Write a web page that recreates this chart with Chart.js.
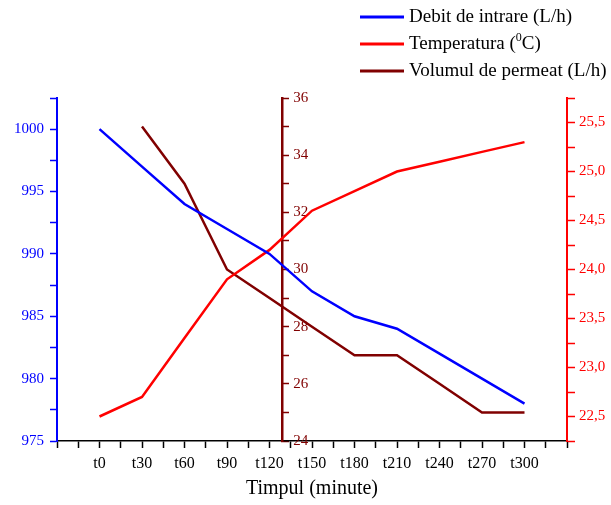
<!DOCTYPE html>
<html>
<head>
<meta charset="utf-8">
<script src="https://cdn.jsdelivr.net/npm/chart.js@4.4.1/dist/chart.umd.min.js"></script>
<style>
  html, body { margin: 0; padding: 0; background: #fff; }
  #wrap { position: relative; width: 611px; height: 505px; }
</style>
</head>
<body>
<div id="wrap"><canvas id="chart"></canvas></div>
<script>
// time axis (minutes) and its labels
var minutes = [0, 30, 60, 90, 120, 150, 180, 210, 240, 270, 300];
var timeLabels = ['t0', 't30', 't60', 't90', 't120', 't150', 't180', 't210', 't240', 't270', 't300'];

// series
var debitIntrare = [1000, 997, 994, 992, 990, 987, 985, 984, 982, 980, 978];
var temperatura = [22.5, 22.7, 23.3, 23.9, 24.2, 24.6, 24.8, 25.0, 25.1, 25.2, 25.3];
var volumPermeat = [null, 35, 33, 30, 29, 28, 27, 27, 26, 25, 25];

var seriesNames = ['Debit de intrare (L/h)', 'Temperatura (\u2070C)', 'Volumul de permeat (L/h)'];

// the permeate axis crosses the time axis here (minutes)
var permAxisAt = 129;

var serif = '"Liberation Serif", "Times New Roman", serif';

function points(values) {
	var out = [];
	for ( var i = 0; i < minutes.length; i++ ) {
		if ( values[i] !== null ) {
			out.push( { x: minutes[i], y: values[i] } );
		}
	}
	return out;
}

// legend drawn as stacked rows above the plot, like the original
var legendRows = {
	id: 'legendRows',
	afterDraw: function ( chart ) {
		var ctx = chart.ctx;
		ctx.save();
		ctx.textBaseline = 'middle';
		chart.data.datasets.forEach( function ( ds, i ) {
			var y = 17 + i * 27;
			ctx.strokeStyle = ds.borderColor;
			ctx.lineWidth = 3;
			ctx.beginPath();
			ctx.moveTo( 360, y );
			ctx.lineTo( 404, y );
			ctx.stroke();
			ctx.fillStyle = '#000';
			// superscript "0" drawn small and raised
			var parts = ds.label.split( '\u2070' );
			var x = 409;
			parts.forEach( function ( p, k ) {
				if ( k > 0 ) {
					ctx.font = '12px ' + serif;
					ctx.fillText( '0', x, y - 6 );
					x += ctx.measureText( '0' ).width;
				}
				ctx.font = '19px ' + serif;
				ctx.fillText( p, x, y );
				x += ctx.measureText( p ).width;
			} );
		} );
		ctx.restore();
	}
};

// put the middle axis labels on the right side of its line
var permLabelsRight = {
	id: 'permLabelsRight',
	beforeDraw: function ( chart ) {
		var s = chart.scales.yPerm;
		var px = chart.scales.x.getPixelForValue( permAxisAt );
		s.getLabelItems( chart.chartArea ).forEach( function ( it ) {
			it.options.textAlign = 'left';
			it.options.translation[0] = px + 11;
		} );
	}
};

var ctx = document.getElementById( 'chart' ).getContext( '2d' );
var myChart = new Chart( ctx, {
	type   : 'line',
	data   : {
		datasets: [
			{
				label      : seriesNames[0],
				data       : points( debitIntrare ),
				yAxisID    : 'yDebit',
				borderColor: '#0000FF',
				borderWidth: 2.5,
				pointRadius: 0,
				tension    : 0
			},
			{
				label      : seriesNames[1],
				data       : points( temperatura ),
				yAxisID    : 'yTemp',
				borderColor: '#FF0000',
				borderWidth: 2.5,
				pointRadius: 0,
				tension    : 0
			},
			{
				label      : seriesNames[2],
				data       : points( volumPermeat ),
				yAxisID    : 'yPerm',
				borderColor: '#800000',
				borderWidth: 2.5,
				pointRadius: 0,
				tension    : 0
			}
		]
	},
	options: {
		responsive         : true,
		maintainAspectRatio: false,
		animation          : false,
		layout             : { padding: { top: 98, left: 0, right: 0, bottom: 0 } },
		plugins            : {
			legend : { display: false },
			tooltip: { enabled: false }
		},
		scales             : {
			x     : {
				type    : 'linear',
				position: 'bottom',
				min     : -30,
				max     : 330,
				border  : { display: true, color: '#000', width: 1.5 },
				grid    : { drawOnChartArea: false, tickLength: 7, tickColor: '#000', tickWidth: 1.5 },
				ticks   : {
					stepSize   : 15,
					autoSkip   : false,
					maxRotation: 0,
					padding    : 6,
					color      : '#000',
					font       : { family: serif, size: 16 },
					callback   : function ( v ) {
						var i = minutes.indexOf( v );
						return i >= 0 ? timeLabels[i] : '';
					}
				},
				title   : {
					display: true,
					text   : 'Timpul (minute)',
					color  : '#000',
					font   : { family: serif, size: 20 },
					padding: { top: 0, bottom: 4 }
				},
				afterFit: function ( s ) { s.height = 64; }
			},
			yDebit: {
				type    : 'linear',
				position: 'left',
				min     : 975,
				max     : 1002.5,
				border  : { display: true, color: '#0000FF', width: 2 },
				grid    : { drawOnChartArea: false, tickLength: 7, tickColor: '#0000FF', tickWidth: 1.5 },
				ticks   : {
					stepSize: 2.5,
					padding : 6,
					color   : '#0000FF',
					font    : { family: serif, size: 15 },
					callback: function ( v ) { return v % 5 === 0 ? String( v ) : ''; }
				},
				afterFit: function ( s ) { s.width = 57; }
			},
			yTemp : {
				type    : 'linear',
				position: 'right',
				min     : 22.25,
				max     : 25.75,
				border  : { display: true, color: '#FF0000', width: 2 },
				grid    : { drawOnChartArea: false, tickLength: 8, tickColor: '#FF0000', tickWidth: 1.5 },
				ticks   : {
					stepSize: 0.25,
					padding : 4,
					color   : '#FF0000',
					font    : { family: serif, size: 15 },
					callback: function ( v ) {
						var r = Math.round( v * 100 ) / 100;
						if ( Math.abs( r * 2 - Math.round( r * 2 ) ) > 1e-6 ) {
							return '';
						}
						if ( r < 22.5 || r > 25.5 ) {
							return '';
						}
						return r.toFixed( 1 ).replace( '.', ',' );
					}
				},
				afterFit: function ( s ) { s.width = 44; }
			},
			yPerm : {
				type    : 'linear',
				axis    : 'y',
				position: { x: permAxisAt },
				min     : 24,
				max     : 36,
				border  : { display: true, color: '#800000', width: 2.5 },
				grid    : { drawOnChartArea: false, tickLength: -8, tickColor: '#800000', tickWidth: 1.5 },
				ticks   : {
					stepSize: 1,
					padding : 0,
					color   : '#800000',
					font    : { family: serif, size: 15 },
					callback: function ( v ) { return v % 2 === 0 ? String( v ) : ''; }
				}
			}
		}
	},
	plugins: [legendRows, permLabelsRight]
} );
</script>
</body>
</html>
